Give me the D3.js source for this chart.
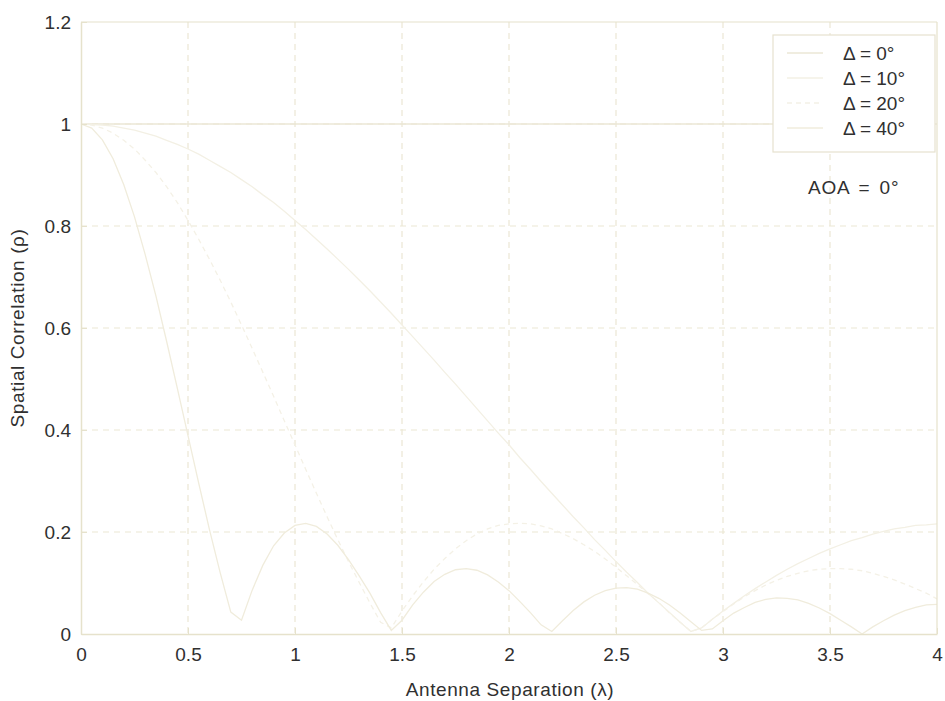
<!DOCTYPE html>
<html>
<head>
<meta charset="utf-8">
<script src="https://cdn.jsdelivr.net/npm/d3@7"></script>
<style>
  html, body { margin: 0; padding: 0; background: #ffffff; }
  svg { display: block; }
  text { font-family: "Liberation Sans", Arial, Helvetica, sans-serif; fill: #303030; }
</style>
</head>
<body>
<svg id="chart" width="945" height="701"></svg>
<script>
// Antenna separation in wavelengths (shared sample points)
const separation = [
  0.00, 0.05, 0.10, 0.15, 0.20, 0.25, 0.30, 0.35, 0.40, 0.45,
  0.50, 0.55, 0.60, 0.65, 0.70, 0.75, 0.80, 0.85, 0.90, 0.95,
  1.00, 1.05, 1.10, 1.15, 1.20, 1.25, 1.30, 1.35, 1.40, 1.45,
  1.50, 1.55, 1.60, 1.65, 1.70, 1.75, 1.80, 1.85, 1.90, 1.95,
  2.00, 2.05, 2.10, 2.15, 2.20, 2.25, 2.30, 2.35, 2.40, 2.45,
  2.50, 2.55, 2.60, 2.65, 2.70, 2.75, 2.80, 2.85, 2.90, 2.95,
  3.00, 3.05, 3.10, 3.15, 3.20, 3.25, 3.30, 3.35, 3.40, 3.45,
  3.50, 3.55, 3.60, 3.65, 3.70, 3.75, 3.80, 3.85, 3.90, 3.95,
  4.00
];

// Spatial correlation for each angular spread
const rhoSpread0 = separation.map(() => 1);

const rhoSpread10 = [
  1.000, 0.999, 0.998, 0.996, 0.992, 0.988, 0.982, 0.976, 0.968, 0.960,
  0.951, 0.941, 0.929, 0.917, 0.905, 0.891, 0.877, 0.861, 0.846, 0.829,
  0.811, 0.793, 0.774, 0.755, 0.735, 0.715, 0.694, 0.673, 0.651, 0.629,
  0.606, 0.583, 0.560, 0.537, 0.513, 0.490, 0.466, 0.442, 0.418, 0.394,
  0.371, 0.346, 0.323, 0.299, 0.276, 0.253, 0.230, 0.208, 0.185, 0.164,
  0.142, 0.121, 0.101, 0.080, 0.061, 0.042, 0.023, 0.005, 0.012, 0.029,
  0.045, 0.060, 0.075, 0.089, 0.102, 0.115, 0.127, 0.138, 0.148, 0.158,
  0.167, 0.175, 0.183, 0.189, 0.196, 0.201, 0.206, 0.209, 0.213, 0.214,
  0.216
];

const rhoSpread20 = [
  1.000, 0.998, 0.992, 0.982, 0.968, 0.951, 0.929, 0.905, 0.877, 0.846,
  0.811, 0.774, 0.735, 0.694, 0.651, 0.606, 0.560, 0.513, 0.466, 0.418,
  0.371, 0.323, 0.276, 0.230, 0.185, 0.142, 0.101, 0.061, 0.023, 0.012,
  0.045, 0.075, 0.102, 0.127, 0.148, 0.167, 0.183, 0.196, 0.206, 0.213,
  0.216, 0.217, 0.216, 0.212, 0.206, 0.197, 0.187, 0.175, 0.162, 0.147,
  0.131, 0.114, 0.097, 0.079, 0.062, 0.041, 0.023, 0.005, 0.012, 0.029,
  0.044, 0.059, 0.073, 0.085, 0.096, 0.105, 0.113, 0.119, 0.124, 0.127,
  0.128, 0.128, 0.127, 0.124, 0.119, 0.113, 0.106, 0.098, 0.089, 0.080,
  0.069
];

const rhoSpread40 = [
  1.000, 0.992, 0.969, 0.932, 0.881, 0.818, 0.744, 0.663, 0.574, 0.482,
  0.389, 0.296, 0.205, 0.121, 0.043, 0.027, 0.086, 0.135, 0.173, 0.198,
  0.213, 0.217, 0.211, 0.196, 0.174, 0.146, 0.114, 0.080, 0.042, 0.007,
  0.027, 0.057, 0.082, 0.103, 0.117, 0.126, 0.128, 0.125, 0.116, 0.102,
  0.085, 0.064, 0.042, 0.018, 0.005, 0.026, 0.046, 0.063, 0.076, 0.085,
  0.090, 0.091, 0.088, 0.080, 0.070, 0.057, 0.041, 0.024, 0.007, 0.010,
  0.026, 0.041, 0.052, 0.062, 0.068, 0.071, 0.070, 0.067, 0.060, 0.051,
  0.040, 0.027, 0.014, 0.000, 0.014, 0.026, 0.037, 0.046, 0.052, 0.057,
  0.058
];

const legendLabels = ["\u0394 = 0\u00b0", "\u0394 = 10\u00b0", "\u0394 = 20\u00b0", "\u0394 = 40\u00b0"];
const xTicks = [0, 0.5, 1, 1.5, 2, 2.5, 3, 3.5, 4];
const yTicks = [0, 0.2, 0.4, 0.6, 0.8, 1, 1.2];

const seriesList = [
  { label: legendLabels[0], values: rhoSpread0,  color: "#ebe7d6", dash: null },
  { label: legendLabels[1], values: rhoSpread10, color: "#f3f0e4", dash: null },
  { label: legendLabels[2], values: rhoSpread20, color: "#f4f1e6", dash: "5,4" },
  { label: legendLabels[3], values: rhoSpread40, color: "#f0ecdc", dash: null }
];

const svg = d3.select("#chart");
const plotLeft = 81, plotRight = 937, plotTop = 22, plotBottom = 634;

const x = d3.scaleLinear().domain([0, 4]).range([plotLeft, plotRight]);
const y = d3.scaleLinear().domain([0, 1.2]).range([plotBottom, plotTop]);

const gridColor = "#ebe7d4";
const axisColor = "#e6e2cc";
const tickFont = 19;
const titleFont = 19;

// dotted grid
svg.append("g").selectAll("line").data(xTicks.slice(1, -1)).join("line")
  .attr("x1", d => x(d)).attr("x2", d => x(d))
  .attr("y1", plotTop).attr("y2", plotBottom)
  .attr("stroke", gridColor).attr("stroke-width", 1.2)
  .attr("stroke-dasharray", "6,5");
svg.append("g").selectAll("line").data(yTicks.slice(1, -1)).join("line")
  .attr("x1", plotLeft).attr("x2", plotRight)
  .attr("y1", d => y(d)).attr("y2", d => y(d))
  .attr("stroke", gridColor).attr("stroke-width", 1.2)
  .attr("stroke-dasharray", "6,5");

// curves
const line = d3.line()
  .x((d, i) => x(separation[i]))
  .y(d => y(d));

svg.append("g").selectAll("path").data(seriesList).join("path")
  .attr("d", s => line(s.values))
  .attr("fill", "none")
  .attr("stroke", s => s.color)
  .attr("stroke-width", 1.3)
  .attr("stroke-dasharray", s => s.dash);

// axes
const xAxis = d3.axisBottom(x).tickValues(xTicks).tickFormat(d3.format("~g")).tickSizeInner(-6).tickSizeOuter(0).tickPadding(14);
const yAxis = d3.axisLeft(y).tickValues(yTicks).tickFormat(d3.format("~g")).tickSizeInner(-6).tickSizeOuter(0).tickPadding(10);

const gx = svg.append("g").attr("transform", `translate(0,${plotBottom})`).call(xAxis);
const gy = svg.append("g").attr("transform", `translate(${plotLeft},0)`).call(yAxis);
[gx, gy].forEach(g => {
  g.select(".domain").attr("stroke", axisColor).attr("stroke-width", 1.5);
  g.selectAll(".tick line").attr("stroke", axisColor);
  g.selectAll(".tick text").attr("font-size", tickFont)
    .attr("font-family", "Liberation Sans, Arial, sans-serif").attr("fill", "#303030");
});

// box edges (top and right)
svg.append("line").attr("x1", plotLeft).attr("x2", plotRight).attr("y1", plotTop).attr("y2", plotTop)
  .attr("stroke", axisColor).attr("stroke-width", 1.2);
svg.append("line").attr("x1", plotRight).attr("x2", plotRight).attr("y1", plotTop).attr("y2", plotBottom)
  .attr("stroke", axisColor).attr("stroke-width", 1.2);

// axis titles
svg.append("text").attr("x", 510).attr("y", 696)
  .attr("text-anchor", "middle").attr("font-size", titleFont).attr("letter-spacing", 0.6)
  .text("Antenna Separation (\u03bb)");
svg.append("text")
  .attr("transform", `translate(24,${(plotTop + plotBottom) / 2}) rotate(-90)`)
  .attr("text-anchor", "middle").attr("font-size", titleFont).attr("letter-spacing", 0.6)
  .text("Spatial Correlation (\u03c1)");

// legend
const lg = svg.append("g");
lg.append("rect").attr("x", 773).attr("y", 35).attr("width", 162).attr("height", 117)
  .attr("fill", "#ffffff").attr("stroke", "#e6e2cf").attr("stroke-width", 1.2);
seriesList.forEach((s, i) => {
  const yy = 53 + i * 25;
  lg.append("line").attr("x1", 787).attr("x2", 823).attr("y1", yy).attr("y2", yy)
    .attr("stroke", s.color).attr("stroke-width", 1.4)
    .attr("stroke-dasharray", s.dash);
  lg.append("text").attr("x", 843).attr("y", yy).attr("dy", "0.35em")
    .attr("font-size", tickFont).text(s.label);
});

// annotation
svg.append("text").attr("x", 808).attr("y", 187).attr("dy", "0.35em")
  .attr("font-size", tickFont).attr("word-spacing", 3).attr("letter-spacing", 0.8)
  .text("AOA = 0\u00b0");
</script>
</body>
</html>
